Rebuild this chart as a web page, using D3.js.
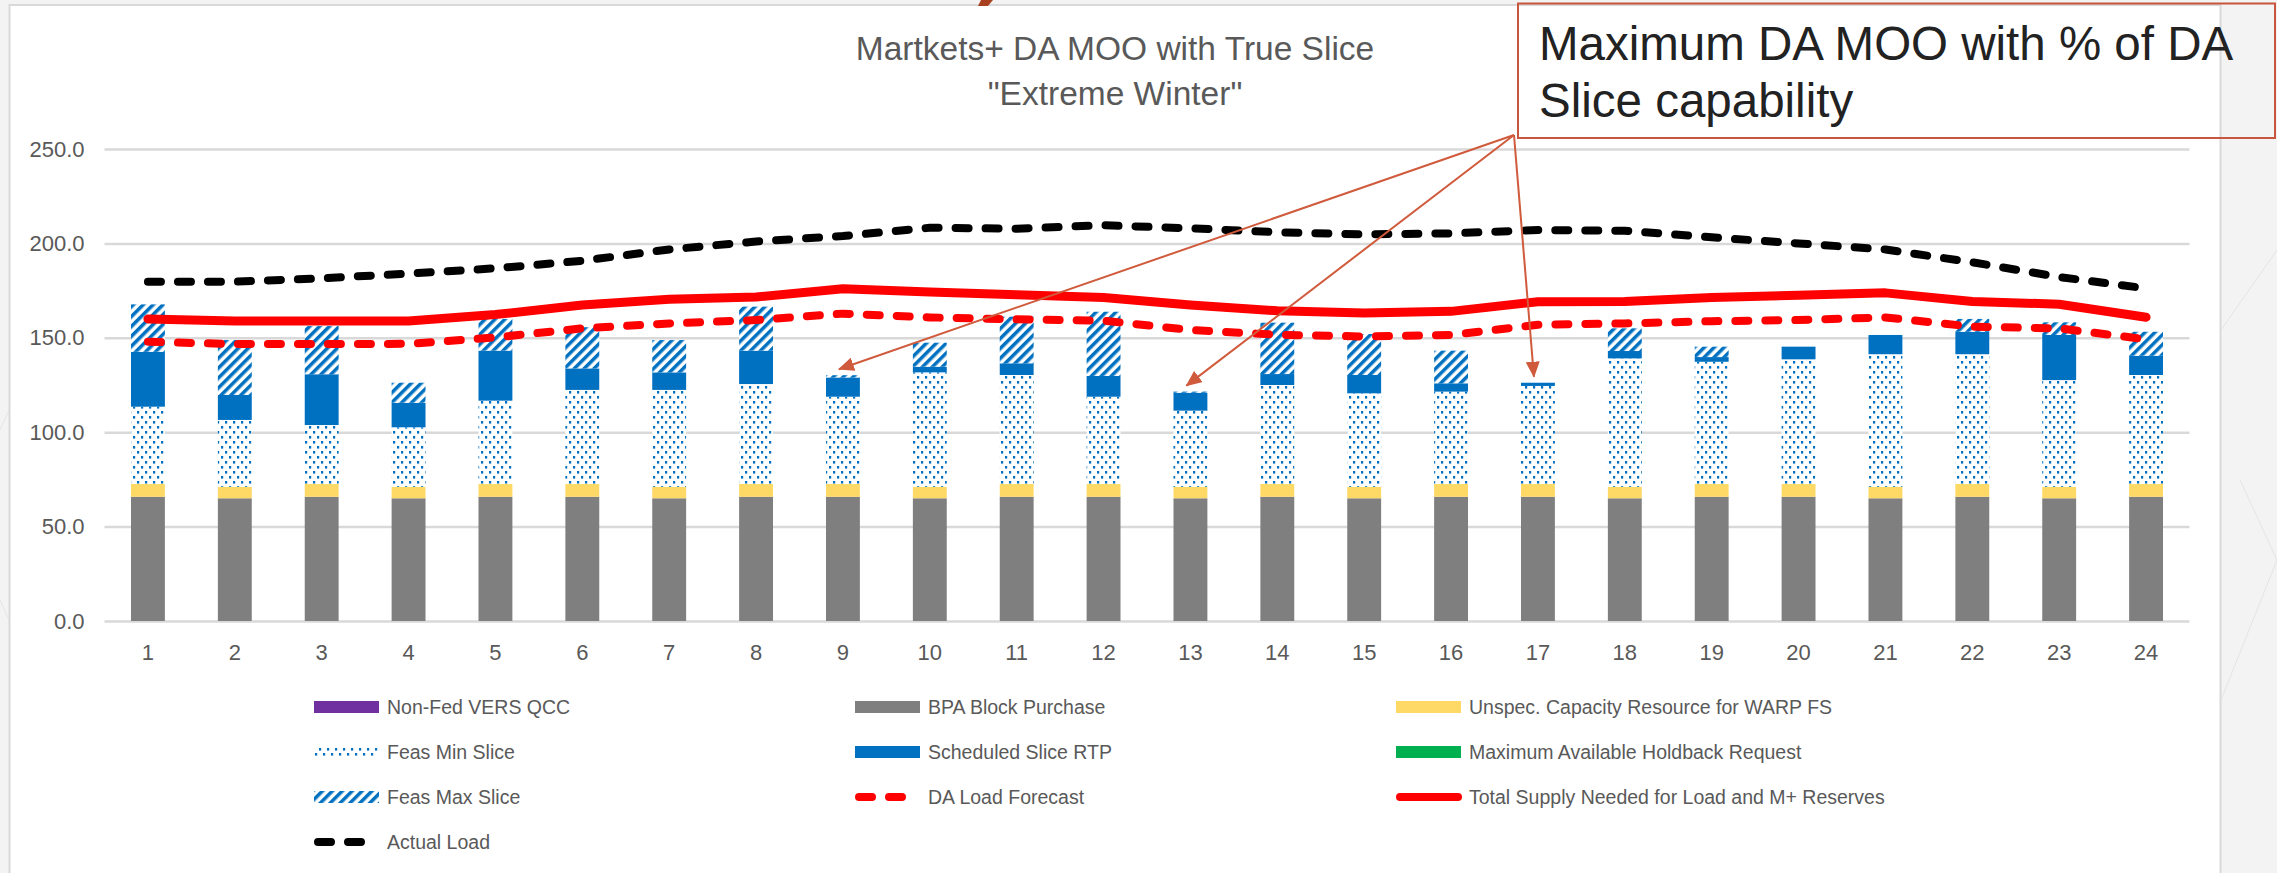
<!DOCTYPE html>
<html><head><meta charset="utf-8">
<script src="https://cdn.jsdelivr.net/npm/d3@7/dist/d3.min.js"></script>
<style>body{margin:0;background:#fff;} svg{display:block;}</style>
</head><body>
<svg id="c" width="2277" height="873"></svg>
<script>
// ---------------- DATA ----------------
const hours = [1,2,3,4,5,6,7,8,9,10,11,12,13,14,15,16,17,18,19,20,21,22,23,24];
const nonFedVers = [0,0,0,0,0,0,0,0,0,0,0,0,0,0,0,0,0,0,0,0,0,0,0,0];
const bpaBlock   = [65.8,65.0,65.8,65.0,65.8,65.8,65.0,65.8,65.8,65.0,65.8,65.8,65.0,65.8,65.0,65.8,65.8,65.0,65.8,65.8,65.0,65.8,65.0,65.8];
const unspecCap  = [6.8,6.1,6.8,6.1,6.8,6.8,6.1,6.8,6.8,6.1,6.8,6.8,6.1,6.8,6.1,6.8,6.8,6.1,6.8,6.8,6.1,6.8,6.1,6.8];
const feasMin    = [40.9,35.4,31.2,31.5,44.1,49.8,51.3,52.9,46.2,60.6,57.7,46.2,40.3,52.4,49.5,48.9,51.9,68.0,64.7,66.0,70.2,68.7,56.5,57.7];
const schedSlice = [29.1,13.2,26.9,13.0,26.5,11.4,9.3,17.7,10.2,3.0,6.2,11.0,9.5,5.8,9.7,4.4,1.7,3.9,2.5,6.7,10.2,11.9,23.9,10.2];
const holdback   = [0,0,0,0,0,0,0,0,0,0,0,0,0,0,0,0,0,0,0,0,0,0,0,0];
const feasMax    = [25.1,29.1,25.5,10.6,16.8,21.8,17.1,23.3,1.2,12.7,24.7,34.0,0.6,27.2,21.7,17.3,0,12.0,5.5,0,0,6.8,6.7,12.7];
const daLoad     = [147.9,146.7,146.7,146.8,150.2,155.0,157.6,159.4,162.8,160.8,159.8,159.1,154.1,151.6,150.7,151.5,156.9,157.6,158.8,159.4,160.8,155.9,155.0,149.2];
const totalSupply= [160.0,158.9,158.9,158.9,162.3,167.4,170.4,171.6,176.0,174.2,172.8,171.3,167.4,164.3,163.2,164.0,169.1,169.2,171.3,172.6,173.8,169.2,167.8,160.9];
const actualLoad = [179.7,179.7,181.5,184.0,186.8,190.8,196.8,201.0,203.9,208.3,207.8,209.6,208.0,205.9,204.8,205.3,207.1,206.7,203.2,200.0,196.8,190.0,182.2,176.2];
const yTicks = [0,50,100,150,200,250];
const titleLines = ["Martkets+ DA MOO with True Slice", "\"Extreme Winter\""];
const noteLines = ["Maximum DA MOO with % of DA", "Slice capability"];
const noteTargets = [9, 13, 17];

const barKeys = ["nonFedVers","bpaBlock","unspecCap","feasMin","schedSlice","holdback","feasMax"];
const barSeries = {nonFedVers, bpaBlock, unspecCap, feasMin, schedSlice, holdback, feasMax};
const fills = {nonFedVers:"#7030A0", bpaBlock:"#7F7F7F", unspecCap:"#FFD966", feasMin:"url(#dots)",
               schedSlice:"#0070C0", holdback:"#00B050", feasMax:"url(#hatch)"};

// ---------------- SETUP ----------------
(function () {
const FONT = "'Liberation Sans', Arial, sans-serif";
const svg = d3.select("#c");
const W = 2277, H = 873;
const pLeft = 104.5, pRight = 2189.5, pTop = 149, pBottom = 621;

const x = d3.scaleBand().domain(hours).range([pLeft, pRight]).paddingInner(0.61).paddingOuter(0.305);
const y = d3.scaleLinear().domain([0, 250]).range([pBottom, pTop]);

// background
svg.append("rect").attr("width", W).attr("height", H).attr("fill", "#F3F3F3");
const deco = svg.append("g").attr("stroke", "#E4E4E4").attr("stroke-width", 1).attr("fill", "none");
[[2221,330,2277,250],[2221,700,2277,560],[2240,480,2277,560],[0,430,9,410],[0,600,9,620]].forEach(d =>
  deco.append("line").attr("x1", d[0]).attr("y1", d[1]).attr("x2", d[2]).attr("y2", d[3]));
svg.append("rect").attr("x", 9.5).attr("y", 5).attr("width", 2211).attr("height", 900)
  .attr("fill", "#fff").attr("stroke", "#D9D9D9").attr("stroke-width", 2);
svg.append("polygon").attr("points", "981,0 993,0 988,6 978,6").attr("fill", "#A8401F");

// patterns
const defs = svg.append("defs");
const hatch = defs.append("pattern").attr("id", "hatch").attr("patternUnits", "userSpaceOnUse")
  .attr("width", 7).attr("height", 7).attr("patternTransform", "rotate(45)");
hatch.append("rect").attr("width", 7).attr("height", 7).attr("fill", "#fff");
hatch.append("rect").attr("width", 3.5).attr("height", 7).attr("fill", "#0070C0");
const dots = defs.append("pattern").attr("id", "dots").attr("patternUnits", "userSpaceOnUse")
  .attr("width", 8).attr("height", 10);
dots.append("rect").attr("width", 8).attr("height", 10).attr("fill", "#fff");
dots.append("rect").attr("x", 1).attr("y", 1).attr("width", 2.2).attr("height", 2.6).attr("fill", "#0070C0");
dots.append("rect").attr("x", 5).attr("y", 6).attr("width", 2.2).attr("height", 2.6).attr("fill", "#0070C0");
defs.append("marker").attr("id", "arrow").attr("viewBox", "0 0 16 14").attr("refX", 15).attr("refY", 7)
  .attr("markerWidth", 16).attr("markerHeight", 14).attr("markerUnits", "userSpaceOnUse").attr("orient", "auto")
  .append("path").attr("d", "M0,0 L16,7 L0,14 Z").attr("fill", "#D05A3C");

// title
svg.append("g").selectAll("text").data(titleLines).join("text")
  .attr("x", 1115).attr("y", (d, i) => 60 + i * 45).attr("text-anchor", "middle")
  .attr("font-family", FONT).attr("font-size", 33.5).attr("fill", "#595959").text(d => d);

// y axis with gridlines
const yAxis = svg.append("g").attr("transform", `translate(${pLeft},0)`)
  .call(d3.axisLeft(y).tickValues(yTicks).tickFormat(d3.format(".1f")).tickSize(-(pRight - pLeft)).tickPadding(20));
yAxis.select(".domain").remove();
yAxis.selectAll(".tick line").attr("stroke", "#D9D9D9").attr("stroke-width", 2.5);
yAxis.selectAll(".tick text").attr("font-family", FONT).attr("font-size", 22).attr("fill", "#595959");

// x axis
const xAxis = svg.append("g").attr("transform", `translate(0,${pBottom})`)
  .call(d3.axisBottom(x).tickSize(0).tickPadding(23));
xAxis.select(".domain").remove();
xAxis.selectAll(".tick text").attr("font-family", FONT).attr("font-size", 22).attr("fill", "#595959");

// stacked bars
const rows = hours.map((h, i) => {
  const r = {hour: h};
  barKeys.forEach(k => r[k] = barSeries[k][i]);
  return r;
});
const stacked = d3.stack().keys(barKeys)(rows);
svg.append("g").selectAll("g").data(stacked).join("g")
  .attr("fill", d => fills[d.key])
  .selectAll("rect").data(d => d).join("rect")
  .attr("x", d => x(d.data.hour)).attr("width", x.bandwidth())
  .attr("y", d => y(d[1])).attr("height", d => Math.max(0, y(d[0]) - y(d[1])));

// lines
const cx = h => x(h) + x.bandwidth() / 2;
const lineGen = d3.line().x((d, i) => cx(hours[i])).y(d => y(d));
const lineDefs = [
  {data: daLoad, color: "#FF0000", width: 8, dash: "13,17"},
  {data: totalSupply, color: "#FF0000", width: 9, dash: null},
  {data: actualLoad, color: "#000000", width: 8, dash: "13,17"}
];
svg.append("g").selectAll("path").data(lineDefs).join("path")
  .attr("d", d => lineGen(d.data)).attr("fill", "none")
  .attr("stroke", d => d.color).attr("stroke-width", d => d.width)
  .attr("stroke-dasharray", d => d.dash).attr("stroke-linecap", "round").attr("stroke-linejoin", "round");

// legend
const legendItems = [
  {name: "Non-Fed VERS QCC", type: "rect", fill: fills.nonFedVers},
  {name: "BPA Block Purchase", type: "rect", fill: fills.bpaBlock},
  {name: "Unspec. Capacity Resource for WARP FS", type: "rect", fill: fills.unspecCap},
  {name: "Feas Min Slice", type: "rect", fill: fills.feasMin},
  {name: "Scheduled Slice RTP", type: "rect", fill: fills.schedSlice},
  {name: "Maximum Available Holdback Request", type: "rect", fill: fills.holdback},
  {name: "Feas Max Slice", type: "rect", fill: fills.feasMax},
  {name: "DA Load Forecast", type: "line", color: "#FF0000", dash: "13,17"},
  {name: "Total Supply Needed for Load and M+ Reserves", type: "line", color: "#FF0000", dash: null},
  {name: "Actual Load", type: "line", color: "#000000", dash: "13,17"}
];
const colX = [314, 855, 1396], rowY0 = 707, rowStep = 45;
const lg = svg.append("g").selectAll("g").data(legendItems).join("g")
  .attr("transform", (d, i) => `translate(${colX[i % 3]},${rowY0 + Math.floor(i / 3) * rowStep})`);
lg.filter(d => d.type === "rect").append("rect")
  .attr("x", 0).attr("y", -6).attr("width", 65).attr("height", 12).attr("fill", d => d.fill);
lg.filter(d => d.type === "line").append("line")
  .attr("x1", 4).attr("x2", 62).attr("y1", 0).attr("y2", 0)
  .attr("stroke", d => d.color).attr("stroke-width", 8).attr("stroke-linecap", "round")
  .attr("stroke-dasharray", d => d.dash);
lg.append("text").attr("x", 73).attr("y", 0).attr("dy", "0.35em")
  .attr("font-family", FONT).attr("font-size", 19.5).attr("fill", "#595959").text(d => d.name);

// annotation
const noteOrigin = [1514, 135];
const ann = svg.append("g");
ann.selectAll("line").data(noteTargets).join("line")
  .attr("x1", noteOrigin[0]).attr("y1", noteOrigin[1])
  .attr("x2", h => cx(h) - 4)
  .attr("y2", h => {
    const i = hours.indexOf(h);
    const topV = bpaBlock[i] + unspecCap[i] + feasMin[i] + schedSlice[i] + feasMax[i];
    return y(topV) - 6;
  })
  .attr("stroke", "#D05A3C").attr("stroke-width", 2).attr("marker-end", "url(#arrow)");
ann.append("rect").attr("x", 1518).attr("y", 3.5).attr("width", 757).attr("height", 134.5)
  .attr("fill", "none").attr("stroke", "#C8553D").attr("stroke-width", 2);
ann.selectAll("text").data(noteLines).join("text")
  .attr("x", 1539).attr("y", (d, i) => 60 + i * 57)
  .attr("font-family", FONT).attr("font-size", 47.5).attr("fill", "#222").text(d => d);
})();
</script>
</body></html>
